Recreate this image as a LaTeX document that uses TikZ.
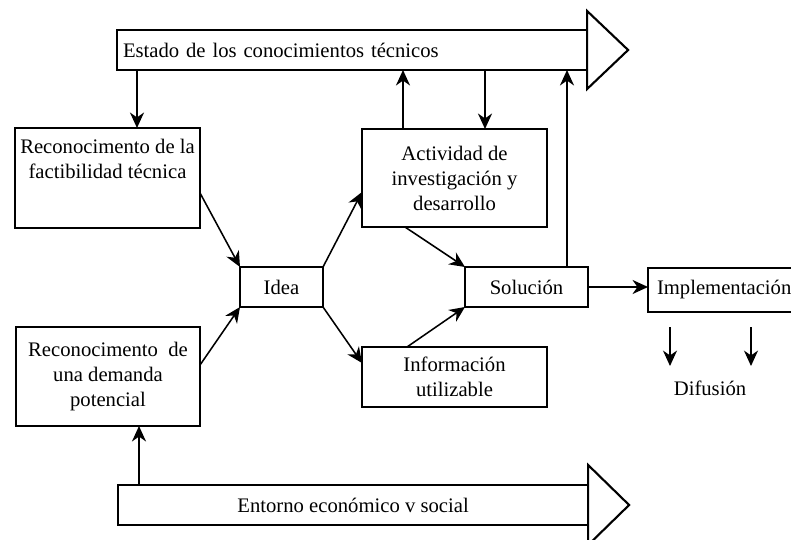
\documentclass[tikz,border=0pt]{standalone}
\usepackage{fontspec}
\setmainfont{Liberation Serif}
\usetikzlibrary{arrows.meta}
\begin{document}
\begin{tikzpicture}[x=0.025cm, y=-0.025cm,
    font=\fontsize{14.7}{17.8}\selectfont,
    box/.style={draw, line width=1.8pt, inner sep=0pt, outer sep=0pt, align=center},
    bar/.style={draw, line width=1.5pt, inner sep=0pt, outer sep=0pt, minimum width=11.75cm, minimum height=1cm},
    head/.style={draw, line width=1.5pt, line join=miter},
    link/.style={-{Stealth[length=11pt, width=10pt, inset=3.5pt]}, line width=1.1pt}]
    \useasboundingbox (0,0) rectangle (791,540);
    \clip (0,0) rectangle (791,540);

    % the two broad arrows
    \node[bar, anchor=north west, text width=11.45cm, inner xsep=0.15cm, align=left] (state) at (117,30) {Estado de los conocimientos técnicos};
    \path[head] (state.north east) -- ++(0,-19) -- ++(41,39) -- ++(-41,39) -- cycle;
    \node[bar, anchor=north west] (econ) at (118,485) {Entorno económico v social};
    \path[head] (econ.north east) -- ++(0,-20) -- ++(41,40) -- ++(-41,40) -- cycle;

    % boxes
    \node[box, minimum width=4.625cm, minimum height=2.5cm] (fact) at (107.5,178) {};
    \node[anchor=north, align=center, inner sep=0pt] (factT) at ([yshift=-0.275cm]fact.north) {Reconocimento de la\\factibilidad técnica};
    \node[box, minimum width=4.6cm, minimum height=2.475cm] (demand) at (108,376.5) {Reconocimento~ de\\una demanda\\potencial};
    \node[box, minimum width=2.075cm, minimum height=1cm] (idea) at (281.5,287) {Idea};
    \node[box, minimum width=4.625cm, minimum height=2.45cm] (rd) at (454.5,178) {Actividad de\\investigación y\\desarrollo};
    \node[box, minimum width=4.625cm, minimum height=1.5cm] (info) at (454.5,377) {Información\\utilizable};
    \node[box, minimum width=3.075cm, minimum height=1cm] (sol) at (526.5,287) {Solución};
    \node[box, anchor=west, text width=3.6cm, inner xsep=0.225cm, minimum height=1.1cm, align=left] (impl) at (648,290) {Implementación};
    \node (dif) at (710,388) {Difusión};
    \coordinate (difA) at (670,327);
    \coordinate (difAe) at (670,366);
    \coordinate (difB) at (751,327);
    \coordinate (difBe) at (751,366);

    % connectors
    \draw[link] (137,0 |- state.south) -- (137,0 |- fact.north);
    \draw[link] (403,0 |- rd.north) -- (403,0 |- state.south);
    \draw[link] (485,0 |- state.south) -- (485,0 |- rd.north);
    \draw[link] (567,0 |- sol.north) -- (567,0 |- state.south);
    \draw[link] (139,0 |- econ.north) -- (139,0 |- demand.south);
    \draw[link] (fact.east |- 0,193) -- (idea.north west);
    \draw[link] (demand.east |- 0,365) -- (idea.south west);
    \draw[link] (idea.north east) -- (rd.west |- 0,192);
    \draw[link] (idea.south east) -- (info.west |- 0,363);
    \draw[link] (405,0 |- rd.south) -- (sol.north west);
    \draw[link] (407,0 |- info.north) -- (sol.south west);
    \draw[link] (sol.east) -- (sol.east -| impl.west);
    \draw[link, line width=0.8pt] (difA) -- (difAe);
    \draw[link, line width=0.8pt] (difB) -- (difBe);
\end{tikzpicture}
\end{document}
